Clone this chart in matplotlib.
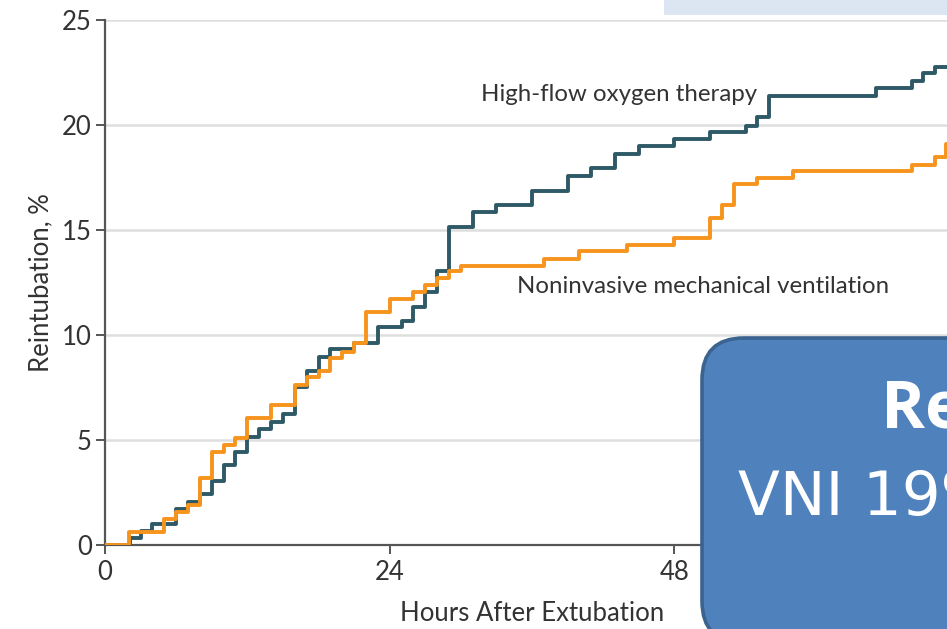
import matplotlib
matplotlib.use("Agg")
import matplotlib.pyplot as plt
from matplotlib.patches import FancyBboxPatch, Rectangle

# Cumulative reintubation (%) by hours after extubation
hfo_hours = [0, 2.1, 3, 4, 6, 7, 8, 9, 10, 11, 12, 13, 14, 15, 16, 17, 18, 19,
             21, 23, 25, 26, 27, 28, 29, 31, 33, 36, 39, 41, 43, 45, 48, 51,
             54, 55, 56, 65, 68, 69, 70, 72]
hfo_pct = [0, 0.33, 0.68, 1.0, 1.71, 2.06, 2.43, 3.06, 3.81, 4.44, 5.16, 5.52,
           5.84, 6.22, 7.54, 8.29, 8.97, 9.32, 9.63, 10.37, 10.67, 11.35, 12.06,
           13.06, 15.16, 15.87, 16.19, 16.86, 17.57, 17.94, 18.62, 19.0, 19.32,
           19.68, 19.97, 20.4, 21.37, 21.75, 22.1, 22.46, 22.78, 22.78]

niv_hours = [0, 2, 5, 6, 7, 8, 9, 10, 11, 12, 14, 16, 17, 18, 19, 20, 21, 22,
             24, 26, 27, 28, 29, 30, 37, 40, 44, 48, 51, 52, 53, 55, 58, 68,
             70, 70.9, 72]
niv_pct = [0, 0.63, 1.22, 1.59, 1.9, 3.17, 4.44, 4.76, 5.08, 6.06, 6.67, 7.62,
           7.98, 8.29, 8.89, 9.21, 9.6, 11.1, 11.7, 12.06, 12.38, 12.7, 13.06,
           13.29, 13.62, 14.0, 14.29, 14.6, 15.56, 16.2, 17.2, 17.46, 17.81,
           18.1, 18.49, 19.1, 19.1]

x_ticks = [0, 24, 48]
y_ticks = [0, 5, 10, 15, 20, 25]

TEAL = '#2E5966'
ORANGE = '#F7941D'
AXIS = '#555555'
TEXT = '#333333'

plt.rcParams['font.family'] = ['Lato', 'DejaVu Sans']

fig = plt.figure(figsize=(9.47, 6.29), dpi=100)
# the plot runs on to 72 h, a little past the right edge of the picture
ax = fig.add_axes([0.1109, 0.1335, 0.9018, 0.8347])

ax.step(hfo_hours, hfo_pct, where='post', color=TEAL, lw=2.8, zorder=3)
ax.step(niv_hours, niv_pct, where='post', color=ORANGE, lw=2.8, zorder=4)

ax.set_xlim(0, 72)
ax.set_ylim(0, 25)
ax.set_xticks(x_ticks)
ax.set_yticks(y_ticks)
ax.grid(axis='y', color='#DEDEDE', lw=1.8, zorder=0)
ax.set_axisbelow(True)

for side in ['top', 'right']:
    ax.spines[side].set_visible(False)
for side in ['left', 'bottom']:
    ax.spines[side].set_color(AXIS)
    ax.spines[side].set_linewidth(1.6)
ax.tick_params(direction='out', length=6.5, width=1.4, color=AXIS,
               labelsize=18.5, labelcolor=TEXT)
ax.tick_params(axis='x', pad=4)
ax.tick_params(axis='y', pad=3)

ax.set_xlabel('Hours After Extubation', fontsize=18.5, color=TEXT, labelpad=12)
ax.set_ylabel('Reintubation, %', fontsize=18.5, color=TEXT, labelpad=6)

ax.text(31.7, 21.45, 'High-flow oxygen therapy', fontsize=17.3, color=TEXT,
        ha='left', va='center')
ax.text(34.7, 12.3, 'Noninvasive mechanical ventilation', fontsize=17.3,
        color=TEXT, ha='left', va='center')

# slide overlays (pixel coordinates)
fig.patches.append(Rectangle((664, 629 - 15), 300, 30, transform=None,
                             facecolor='#DCE6F2', edgecolor='none', zorder=5))
box = FancyBboxPatch((702, -14), 450, 305, transform=None,
                     boxstyle='round,pad=0,rounding_size=42',
                     facecolor='#4F81BD', edgecolor='#3A6390', lw=2.6,
                     zorder=6)
fig.patches.append(box)
fig.text(881, 629 - 427, 'Reintubación', transform=None, fontsize=48,
         fontweight='bold', color='white', family=['Open Sans', 'DejaVu Sans'],
         ha='left', va='baseline', zorder=7)
fig.text(738, 629 - 515, 'VNI 19%', transform=None, fontsize=44,
         color='white', family=['DejaVu Sans'],
         ha='left', va='baseline', zorder=7)

fig.savefig('out.png', dpi=100)
